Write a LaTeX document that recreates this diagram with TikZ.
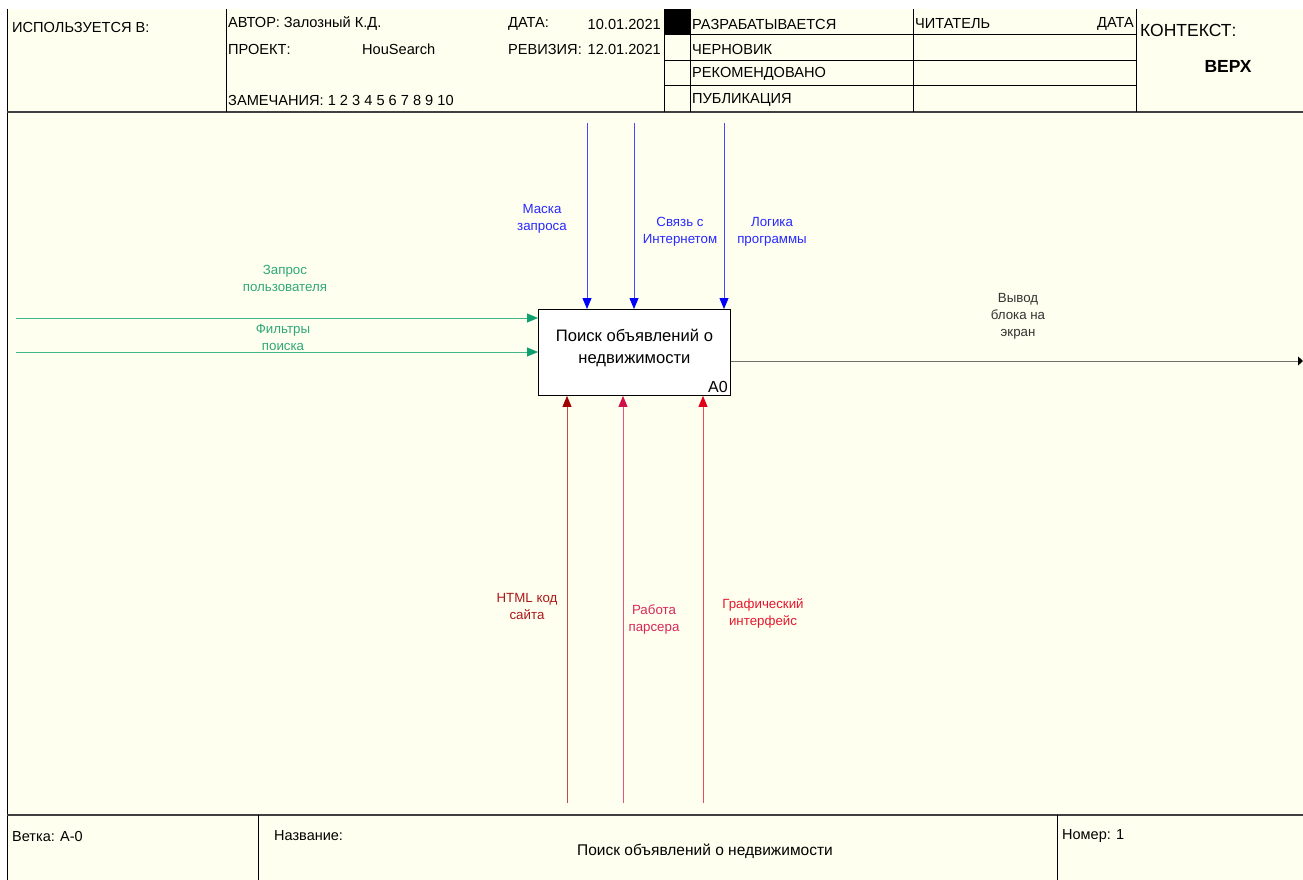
\documentclass[tikz,border=0pt]{standalone}
\usepackage{fontspec}
\setmainfont{Liberation Sans}
\usetikzlibrary{arrows.meta}
\definecolor{bg}{HTML}{FFFFF0}
\definecolor{ablue}{HTML}{0000FF}
\definecolor{lblue}{HTML}{4848FF}
\definecolor{tblue}{HTML}{2828FF}
\definecolor{agreen}{HTML}{10A070}
\definecolor{lgreen}{HTML}{40B888}
\definecolor{tgreen}{HTML}{30A878}
\definecolor{red1}{HTML}{A00000}
\definecolor{red2}{HTML}{D01048}
\definecolor{red3}{HTML}{E00018}
\definecolor{outgray}{HTML}{707070}
\tikzset{
  frameline/.style={draw=black, line width=0.9pt},
  hdr/.style={anchor=west, inner sep=0pt, font=\fontsize{14.6}{16}\selectfont},
  ftr/.style={anchor=west, inner sep=0pt, font=\fontsize{14.5}{16}\selectfont},
  lbl/.style={align=center, inner sep=0pt, font=\fontsize{13.3}{17}\selectfont},
  ctrl/.style={draw=lblue, line width=0.8pt, -{Triangle[length=11pt,width=9pt,color=ablue]}},
  inp/.style={draw=lgreen, line width=0.8pt, -{Triangle[length=11pt,width=9pt,color=agreen]}},
  mech/.style={line width=0.8pt, -{Triangle[length=11pt,width=9pt]}},
  funcbox/.style={draw=black, fill=white, line width=0.9pt, minimum width=192pt, minimum height=86pt, inner sep=0pt},
}
\begin{document}
\begin{tikzpicture}[x=1pt,y=-1pt]
\path[use as bounding box] (0,0) rectangle (1303,880);
\fill[white] (0,0) rectangle (1303,880);
\fill[bg] (7,9) rectangle (1303,880);
% frame
\draw[frameline] (7,9) -- (7,880);
\draw[draw=black!75, line width=1.4pt] (7,112) -- (1303,112);
\draw[draw=black!75, line width=1.4pt] (7,815) -- (1303,815);
\foreach \xx in {226,664,690,913,1136} \draw[frameline] (\xx,9) -- (\xx,112);
\foreach \yy in {34,60,85} \draw[frameline] (664,\yy) -- (1136,\yy);
\fill[black] (664,9) rectangle (690,34);
\draw[frameline] (258,815) -- (258,880);
\draw[frameline] (1057,815) -- (1057,880);
% header texts
\node[hdr] (used) at (12,27) {ИСПОЛЬЗУЕТСЯ В:};
\node[hdr] (author) at (228,24) {АВТОР: Залозный К.Д.};
\node[hdr] (proj) at (228,49) {ПРОЕКТ:};
\node[hdr] (projn) at (362,49) {HouSearch};
\node[hdr] (notes) at (228,100) {ЗАМЕЧАНИЯ: 1 2 3 4 5 6 7 8 9 10};
\node[hdr] (date) at (508,24) {ДАТА:};
\node[hdr, anchor=east] (datev) at (661,24) {10.01.2021};
\node[hdr] (rev) at (508,49) {РЕВИЗИЯ:};
\node[hdr, anchor=east] (revv) at (661,49) {12.01.2021};
\node[hdr] (st1) at (692,24) {РАЗРАБАТЫВАЕТСЯ};
\node[hdr] (st2) at (692,49) {ЧЕРНОВИК};
\node[hdr] (st3) at (692,74) {РЕКОМЕНДОВАНО};
\node[hdr] (st4) at (692,100) {ПУБЛИКАЦИЯ};
\node[hdr] (reader) at (915,24) {ЧИТАТЕЛЬ};
\node[hdr, anchor=east] (rdate) at (1134,24) {ДАТА};
\node[hdr, font=\fontsize{17.5}{19}\selectfont] (ctx) at (1140,30) {КОНТЕКСТ:};
\node[inner sep=0pt, font=\fontsize{17.5}{19}\selectfont\bfseries] (top) at (1228,66) {ВЕРХ};
% footer texts
\node[ftr] (branch) at (12,836) {Ветка: А-0};
\node[ftr] (title) at (274,836) {Название:};
\node[inner sep=0pt, font=\fontsize{15.5}{17}\selectfont] (titlev) at (705,851) {Поиск объявлений о недвижимости};
\node[ftr] (num) at (1062,836) {Номер: 1};
% function box
\node[funcbox, anchor=north west] (A0) at (538,309) {};
\node[align=center, inner sep=0pt, font=\fontsize{16.6}{22}\selectfont] (A0t) at (A0.center) [yshift=4pt] {Поиск объявлений о\\недвижимости};
\node[anchor=south east, inner sep=3pt, font=\fontsize{16}{18}\selectfont] (A0n) at (A0.south east) {A0};
% controls
\coordinate (c1) at (587,123);
\coordinate (c2) at (634,123);
\coordinate (c3) at (724,123);
\draw[ctrl] (c1) -- (c1 |- A0.north);
\draw[ctrl] (c2) -- (c2 |- A0.north);
\draw[ctrl] (c3) -- (c3 |- A0.north);
\node[lbl, text=tblue] (lc1) at (542,219) {Маска\\запроса};
\node[lbl, text=tblue] (lc2) at (680,232) {Связь с\\Интернетом};
\node[lbl, text=tblue] (lc3) at (772,232) {Логика\\программы};
% inputs
\coordinate (i1) at (16,318);
\coordinate (i2) at (16,352);
\draw[inp] (i1) -- (i1 -| A0.west);
\draw[inp] (i2) -- (i2 -| A0.west);
\node[lbl, text=tgreen] (li1) at (285,278) {Запрос\\пользователя};
\node[lbl, text=tgreen] (li2) at (283,337) {Фильтры\\поиска};
% mechanisms
\coordinate (m1) at (567,803);
\coordinate (m2) at (623,803);
\coordinate (m3) at (703,803);
\draw[mech, draw=red1!70, -{Triangle[length=11pt,width=9pt,color=red1]}] (m1) -- (m1 |- A0.south);
\draw[mech, draw=red2!70, -{Triangle[length=11pt,width=9pt,color=red2]}] (m2) -- (m2 |- A0.south);
\draw[mech, draw=red3!70, -{Triangle[length=11pt,width=9pt,color=red3]}] (m3) -- (m3 |- A0.south);
\node[lbl, text=red1!90] (lm1) at (527,606) {HTML код\\сайта};
\node[lbl, text=red2!90] (lm2) at (654,619) {Работа\\парсера};
\node[lbl, text=red3!90] (lm3) at (763,613) {Графический\\интерфейс};
% output
\coordinate (o1) at (1303,361);
\draw[draw=outgray, line width=0.8pt, -{Triangle[length=5pt,width=9pt,color=black]}] (A0.east |- o1) -- (o1);
\node[lbl, text=black!80] (lo1) at (1018,316) {Вывод\\блока на\\экран};
\end{tikzpicture}
\end{document}
